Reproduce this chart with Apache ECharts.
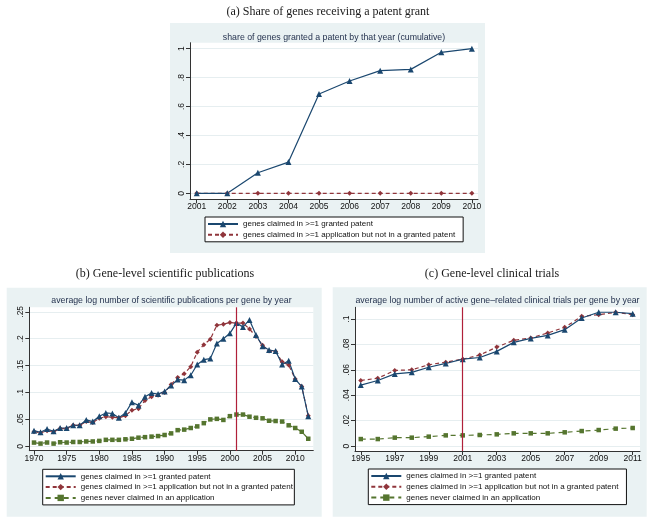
<!DOCTYPE html>
<html><head><meta charset="utf-8">
<script src="https://cdn.jsdelivr.net/npm/echarts@6/dist/echarts.min.js"></script>
<style>html,body{margin:0;padding:0;background:#fff}#c{width:654px;height:524px}</style>
</head><body><div id="c"></div>
<script>
// ---- data ----
const yearsA = [2001,2002,2003,2004,2005,2006,2007,2008,2009,2010];
const grantedA = [0,0,0.142,0.216,0.687,0.777,0.848,0.857,0.975,1.0];
const appOnlyA = [0,0,0,0,0,0,0,0,0,0];
const ticksAX = [2001,2002,2003,2004,2005,2006,2007,2008,2009,2010];
const ticksAY = [0,0.2,0.4,0.6,0.8,1];
const labelsAY = ['0','.2','.4','.6','.8','1'];

const yearsB = [1970,1971,1972,1973,1974,1975,1976,1977,1978,1979,1980,1981,1982,1983,1984,1985,1986,1987,1988,1989,1990,1991,1992,1993,1994,1995,1996,1997,1998,1999,2000,2001,2002,2003,2004,2005,2006,2007,2008,2009,2010,2011,2012];
const grantedB = [0.029,0.026,0.032,0.028,0.034,0.034,0.039,0.039,0.049,0.046,0.056,0.062,0.061,0.053,0.062,0.082,0.076,0.092,0.099,0.097,0.102,0.113,0.124,0.123,0.132,0.152,0.161,0.163,0.191,0.200,0.210,0.229,0.222,0.235,0.207,0.186,0.179,0.177,0.152,0.159,0.125,0.111,0.056];
const appOnlyB = [0.027,0.025,0.029,0.027,0.033,0.033,0.039,0.039,0.046,0.044,0.052,0.055,0.054,0.053,0.057,0.067,0.070,0.085,0.092,0.095,0.100,0.115,0.128,0.135,0.148,0.175,0.189,0.199,0.225,0.227,0.230,0.229,0.229,0.218,0.204,0.188,0.177,0.176,0.157,0.151,0.125,0.111,0.057];
const neverB = [0.0069,0.005,0.007,0.005,0.0075,0.007,0.008,0.008,0.009,0.009,0.010,0.012,0.012,0.012,0.013,0.014,0.016,0.017,0.018,0.019,0.021,0.024,0.030,0.031,0.034,0.037,0.043,0.050,0.051,0.049,0.056,0.059,0.059,0.055,0.053,0.052,0.0475,0.047,0.046,0.039,0.034,0.027,0.014];
const ticksBX = [1970,1975,1980,1985,1990,1995,2000,2005,2010];
const ticksBY = [0,0.05,0.1,0.15,0.2,0.25];
const labelsBY = ['0','.05','.1','.15','.2','.25'];

const yearsC = [1995,1996,1997,1998,1999,2000,2001,2002,2003,2004,2005,2006,2007,2008,2009,2010,2011];
const grantedC = [0.048,0.0516,0.0568,0.058,0.062,0.065,0.0684,0.0697,0.0745,0.0816,0.0847,0.0871,0.0916,0.1008,0.1053,0.1053,0.1042];
const appOnlyC = [0.0516,0.0534,0.0595,0.060,0.064,0.066,0.0684,0.0716,0.0779,0.0832,0.085,0.089,0.0934,0.1021,0.1034,0.1053,0.1034];
const neverC = [0.0055,0.0055,0.0066,0.0066,0.0074,0.0084,0.0084,0.0087,0.0092,0.010,0.010,0.010,0.0108,0.0118,0.0126,0.0137,0.0142];
const ticksCX = [1995,1997,1999,2001,2003,2005,2007,2009,2011];
const ticksCY = [0,0.02,0.04,0.06,0.08,0.1];
const labelsCY = ['0','.02','.04','.06','.08','.1'];

const policyYear = 2001;

const nameG = 'genes claimed in >=1 granted patent';
const nameA = 'genes claimed in >=1 application but not in a granted patent';
const nameN = 'genes never claimed in an application';

// ---- style ----
const BLUE = '#1A476F', RED = '#90353B', GREEN = '#55752F', VLINE = '#B0203A';
const BG = '#EAF2F3', GRIDC = '#E6EEF0';
const SANS = "'Liberation Sans',Arial,sans-serif";
const SERIF = "'Liberation Serif','Times New Roman',serif";

function zip(xs, ys){ return xs.map((x,i)=>[x, ys[i]]); }

function xAxis(gi, min, max, ticks){
  return {type:'value', gridIndex:gi, min:min, max:max,
    axisLine:{show:true, onZero:false, lineStyle:{color:'#333', width:1}},
    axisTick:{show:true, length:4, customValues:ticks, lineStyle:{color:'#333'}},
    axisLabel:{customValues:ticks, color:'#111', fontSize:8.5, fontFamily:SANS, margin:3, formatter:v=>String(v)},
    splitLine:{show:false}};
}
function yAxis(gi, min, max, ticks, labels){
  return {type:'value', gridIndex:gi, min:min, max:max,
    axisLine:{show:true, onZero:false, lineStyle:{color:'#333', width:1}},
    axisTick:{show:true, length:4, customValues:ticks, lineStyle:{color:'#333'}},
    axisLabel:{customValues:ticks, rotate:90, color:'#111', fontSize:8.5, fontFamily:SANS, margin:4,
      formatter:v=>{const i=ticks.findIndex(t=>Math.abs(t-v)<1e-9); return i>=0?labels[i]:'';}},
    splitLine:{show:true, lineStyle:{color:GRIDC, width:1}}};
}
function line(name, gi, data, color, dash, symbol, size){
  return {name:name, type:'line', xAxisIndex:gi, yAxisIndex:gi, data:data,
    symbol:symbol, symbolSize:size, showSymbol:true,
    lineStyle:{color:color, width:1.2, type:dash},
    itemStyle:{color:color}, emphasis:{disabled:true}, animation:false, z:3};
}
function vline(gi){
  return {type:'line', xAxisIndex:gi, yAxisIndex:gi, data:[], silent:true, animation:false,
    markLine:{symbol:'none', silent:true, label:{show:false}, animation:false,
      lineStyle:{color:VLINE, width:1.2, type:'solid'}, data:[{xAxis:policyYear}]}};
}
function legend(left, top, names, padRight){
  return {orient:'vertical', left:left, top:top, data:names, itemWidth:30, itemHeight:8, itemGap:2.8,
    padding:[3,padRight,3,2], borderColor:'#111', borderWidth:1, backgroundColor:'#fff', borderRadius:0,
    textStyle:{fontSize:8, lineHeight:8, fontFamily:SANS, color:'#111'}, selectedMode:false};
}
function ttl(text, x, y, serif){
  return {text:text, left:x, top:y, textAlign:'center', padding:0,
    textStyle: serif ? {fontFamily:SERIF, fontSize:12, fontWeight:'normal', color:'#1a1a1a'}
                     : {fontFamily:SANS, fontSize:8.75, fontWeight:'normal', color:'#1F2D4A'}};
}

const chart = echarts.init(document.getElementById('c'), null, {renderer:'canvas'});
chart.setOption({
  animation:false,
  backgroundColor:'#fff',
  graphic:[
    {type:'rect', shape:{x:170, y:23, width:315, height:230}, style:{fill:BG}, z:-10, silent:true},
    {type:'rect', shape:{x:6.7, y:287.7, width:315, height:229}, style:{fill:BG}, z:-10, silent:true},
    {type:'rect', shape:{x:332.7, y:287.3, width:314, height:229.4}, style:{fill:BG}, z:-10, silent:true}
  ],
  title:[
    ttl('(a) Share of genes receiving a patent grant', 328, 5.5, true),
    ttl('share of genes granted a patent by that year (cumulative)', 334, 33, false),
    ttl('(b) Gene-level scientific publications', 165, 268, true),
    ttl('average log number of scientific publications per gene by year', 171.5, 296, false),
    ttl('(c) Gene-level clinical trials', 492, 268, true),
    ttl('average log number of active gene\u2013related clinical trials per gene by year', 497.5, 296, false)
  ],
  grid:[
    {left:190, top:42.7, width:288, height:156.6, show:true, backgroundColor:'#fff', borderWidth:0},
    {left:29.3, top:307.3, width:284, height:143.4, show:true, backgroundColor:'#fff', borderWidth:0},
    {left:355, top:307.3, width:285, height:143.7, show:true, backgroundColor:'#fff', borderWidth:0}
  ],
  xAxis:[
    xAxis(0, 2000.78, 2010.2, ticksAX),
    xAxis(1, 1969.28, 2012.77, ticksBX),
    xAxis(2, 1994.66, 2011.43, ticksCX)
  ],
  yAxis:[
    yAxis(0, -0.0415, 1.0415, ticksAY, labelsAY),
    yAxis(1, -0.0082, 0.2584, ticksBY, labelsBY),
    yAxis(2, -0.0039, 0.1092, ticksCY, labelsCY)
  ],
  legend:[
    legend(205, 217, [nameG, nameA], 8),
    legend(42.7, 469.3, [nameG, nameA, nameN], 1.5),
    legend(368.3, 469, [nameG, nameA, nameN], 8)
  ],
  series:[
    line(nameA, 0, zip(yearsA, appOnlyA), RED, [4,3], 'diamond', 5),
    line(nameG, 0, zip(yearsA, grantedA), BLUE, 'solid', 'triangle', 6),
    vline(1),
    line(nameN, 1, zip(yearsB, neverB), GREEN, [5,4], 'rect', 4.5),
    line(nameA, 1, zip(yearsB, appOnlyB), RED, [4,3], 'diamond', 5),
    line(nameG, 1, zip(yearsB, grantedB), BLUE, 'solid', 'triangle', 6),
    vline(2),
    line(nameN, 2, zip(yearsC, neverC), GREEN, [5,4], 'rect', 4.5),
    line(nameA, 2, zip(yearsC, appOnlyC), RED, [4,3], 'diamond', 5),
    line(nameG, 2, zip(yearsC, grantedC), BLUE, 'solid', 'triangle', 6)
  ]
});
</script></body></html>
